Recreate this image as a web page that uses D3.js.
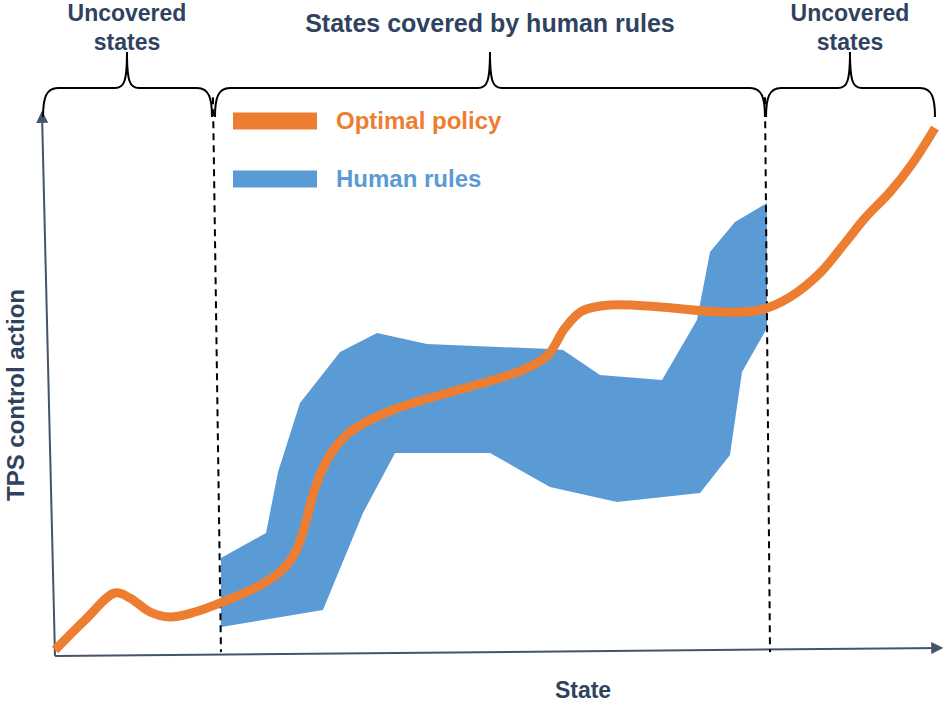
<!DOCTYPE html>
<html>
<head>
<meta charset="utf-8">
<script src="https://cdn.jsdelivr.net/npm/d3@7"></script>
<style>
  html, body { margin: 0; padding: 0; background: #ffffff; }
  svg { display: block; }
</style>
</head>
<body>
<svg id="chart" width="944" height="702"></svg>
<script>
// ---------- data (abstract units: state 0..100, action 0..100) ----------
const policyState  = [0, 3.41, 6.82, 8.52, 10.80, 13.07, 15.91, 19.32, 22.73, 25.57, 27.27, 28.41, 29.55, 31.25, 33.52, 38.07, 43.75, 49.43, 53.41, 56.02, 57.95, 59.89, 63.07, 68.75, 75.57, 80.11, 83.52, 86.93, 89.77, 92.05, 94.89, 97.39, 100];
const policyAction = [0, 5.66, 10.75, 9.81, 7.17, 6.23, 7.17, 9.25, 11.70, 14.72, 18.30, 23.58, 30.57, 36.79, 41.13, 45.09, 48.11, 50.75, 53.02, 55.66, 60.75, 63.96, 65.09, 64.72, 63.77, 64.15, 66.60, 71.13, 76.79, 81.51, 86.42, 91.70, 98.49];

const rulesUpperState  = [18.86, 23.98, 25.34, 27.84, 32.39, 36.59, 42.27, 56.25, 57.73, 61.93, 68.98, 72.95, 74.43, 77.27, 80.91];
const rulesUpperAction = [17.36, 22.08, 33.58, 46.60, 56.23, 59.81, 57.74, 56.79, 56.60, 51.89, 50.94, 62.26, 75.09, 80.75, 84.34];
const rulesLowerState  = [18.86, 30.45, 35.0, 38.64, 49.43, 56.25, 63.86, 73.30, 76.70, 78.07, 80.91];
const rulesLowerAction = [4.34, 7.55, 25.85, 37.17, 37.17, 30.75, 27.92, 29.62, 36.79, 52.45, 60.75];

// boundaries of the covered region (state at top, state at bottom)
const dividerTopState    = [17.95, 80.68];
const dividerBottomState = [18.86, 81.25];
const dividerActionRange = [104.3, -0.4];

// region braces: [start, tip, end] in state units, with labels
const braceStart = [-1.36, 18.18, 80.8];
const braceTip   = [8.18, 49.43, 90.34];
const braceEnd   = [17.84, 80.68, 100.0];
const braceLabels = [["Uncovered", "states"], ["States covered by human rules"], ["Uncovered", "states"]];

const legendLabels = ["Optimal policy", "Human rules"];
const xAxisLabel = "State";
const yAxisLabel = "TPS control action";

// ---------- setup ----------
const ORANGE = "#ED7D31", BLUE = "#5B9BD5", AXIS = "#44546A", TEXT = "#2F4360";
const svg = d3.select("#chart");
const x = d3.scaleLinear().domain([0, 100]).range([55, 935]);
const y = d3.scaleLinear().domain([0, 100]).range([650, 120]);
const FONT = "'Liberation Sans', Arial, sans-serif";

// arrow marker
svg.append("defs").append("marker")
  .attr("id", "arrow").attr("viewBox", "0 0 10 10")
  .attr("refX", 9).attr("refY", 5)
  .attr("markerWidth", 6).attr("markerHeight", 6)
  .attr("markerUnits", "strokeWidth")
  .attr("orient", "auto")
  .append("path").attr("d", "M0,0 L10,5 L0,10 Z").attr("fill", AXIS);

// ---------- human rules band ----------
const band = rulesUpperState.map((s, i) => [s, rulesUpperAction[i]])
  .concat(rulesLowerState.map((s, i) => [s, rulesLowerAction[i]]).reverse());
svg.append("path")
  .attr("d", d3.line().x(d => x(d[0])).y(d => y(d[1]))(band) + "Z")
  .attr("fill", BLUE);

// ---------- axes (hand-drawn style, slightly tilted) ----------
svg.append("line")
  .attr("x1", x(0)).attr("y1", y(-1.13))
  .attr("x2", x(-1.48)).attr("y2", y(101.5))
  .attr("stroke", AXIS).attr("stroke-width", 2).attr("marker-end", "url(#arrow)");
svg.append("line")
  .attr("x1", x(0)).attr("y1", y(-1.13))
  .attr("x2", x(100.8)).attr("y2", y(0.38))
  .attr("stroke", AXIS).attr("stroke-width", 2).attr("marker-end", "url(#arrow)");

// ---------- dividers ----------
dividerTopState.forEach((s, i) => {
  svg.append("line")
    .attr("x1", x(s)).attr("y1", y(dividerActionRange[0]))
    .attr("x2", x(dividerBottomState[i])).attr("y2", y(dividerActionRange[1]))
    .attr("stroke", "#000").attr("stroke-width", 2)
    .attr("stroke-dasharray", "7,5");
});

// ---------- optimal policy ----------
const policy = policyState.map((s, i) => [s, policyAction[i]]);
svg.append("path")
  .attr("d", d3.line().x(d => x(d[0])).y(d => y(d[1])).curve(d3.curveCatmullRom.alpha(0.5))(policy))
  .attr("fill", "none").attr("stroke", ORANGE).attr("stroke-width", 9)
  .attr("stroke-linejoin", "round");

// ---------- braces ----------
const yEnd = 117, yBar = 88, yTipB = 52;
braceStart.forEach((s0, i) => {
  const x0 = x(s0), x1 = x(braceEnd[i]), xt = x(braceTip[i]);
  const p = d3.path();
  p.moveTo(x0, yEnd);
  p.bezierCurveTo(x0, yBar + 10, x0 + 3, yBar, x0 + 15, yBar);
  p.lineTo(xt - 12, yBar);
  p.bezierCurveTo(xt - 3, yBar, xt, yBar - 6, xt, yTipB);
  p.bezierCurveTo(xt, yBar - 6, xt + 3, yBar, xt + 12, yBar);
  p.lineTo(x1 - 15, yBar);
  p.bezierCurveTo(x1 - 3, yBar, x1, yBar + 10, x1, yEnd);
  svg.append("path").attr("d", p.toString())
    .attr("fill", "none").attr("stroke", "#000").attr("stroke-width", 2);

  const lines = braceLabels[i];
  const t = svg.append("text")
    .attr("x", xt).attr("text-anchor", "middle")
    .attr("font-family", FONT).attr("font-weight", "bold")
    .attr("font-size", lines.length > 1 ? 23 : 25).attr("fill", TEXT);
  if (lines.length > 1) {
    t.append("tspan").attr("x", xt).attr("y", 21).text(lines[0]);
    t.append("tspan").attr("x", xt).attr("y", 50).text(lines[1]);
  } else {
    t.attr("y", 32).text(lines[0]);
  }
});

// ---------- legend ----------
const legendColors = [ORANGE, BLUE];
const legendY = [121, 179];
legendLabels.forEach((lab, i) => {
  svg.append("rect")
    .attr("x", 233).attr("y", legendY[i] - 8.5)
    .attr("width", 84).attr("height", 17)
    .attr("fill", legendColors[i]);
  svg.append("text")
    .attr("x", 336).attr("y", legendY[i] + 8)
    .attr("font-family", FONT).attr("font-weight", "bold").attr("font-size", 24)
    .attr("fill", legendColors[i]).text(lab);
});

// ---------- axis labels ----------
svg.append("text")
  .attr("x", 583).attr("y", 698).attr("text-anchor", "middle")
  .attr("font-family", FONT).attr("font-weight", "bold").attr("font-size", 23)
  .attr("fill", TEXT).text(xAxisLabel);
svg.append("text")
  .attr("transform", "translate(24,395) rotate(-90)")
  .attr("text-anchor", "middle")
  .attr("font-family", FONT).attr("font-weight", "bold").attr("font-size", 24)
  .attr("fill", TEXT).text(yAxisLabel);
</script>
</body>
</html>
